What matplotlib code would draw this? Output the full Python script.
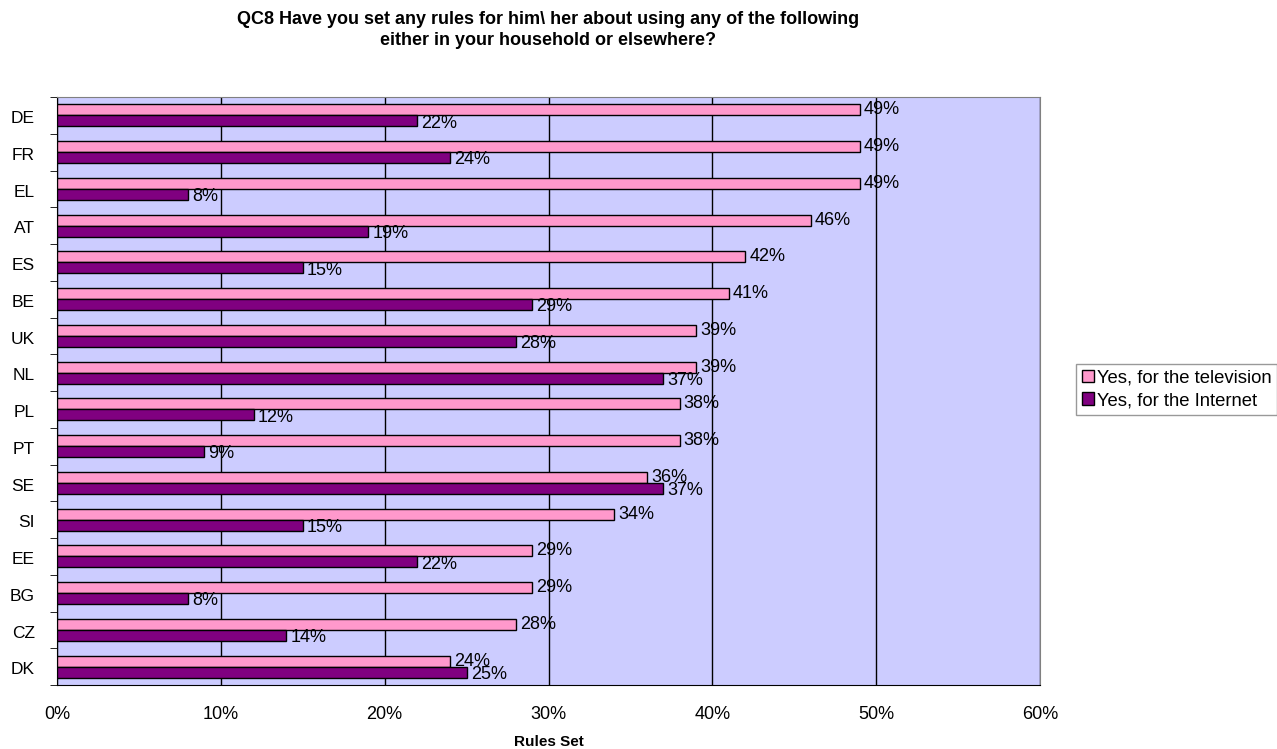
import numpy as np
import matplotlib.pyplot as plt

plt.rcParams['font.family'] = ['Liberation Sans', 'DejaVu Sans']

# Datos
countries = ["DE", "FR", "EL", "AT", "ES", "BE", "UK", "NL", "PL", "PT", "SE", "SI", "EE", "BG", "CZ", "DK"]
tv = [49, 49, 49, 46, 42, 41, 39, 39, 38, 38, 36, 34, 29, 29, 28, 24]
internet = [22, 24, 8, 19, 15, 29, 28, 37, 12, 9, 37, 15, 22, 8, 14, 25]
xticks = [0, 10, 20, 30, 40, 50, 60]

fig = plt.figure(figsize=(12.77, 7.49), dpi=100)
ax = fig.add_axes([57 / 1277, 1 - 685 / 749, (1040 - 57) / 1277, (685 - 97) / 749])
ax.set_facecolor("#CCCCFF")

y = np.arange(len(countries))
h = 0.3
bars_tv = ax.barh(y - h / 2, tv, height=h, color="#FF99CC", edgecolor="black", linewidth=1,
                  label="Yes, for the television", zorder=3)
bars_in = ax.barh(y + h / 2, internet, height=h, color="#800080", edgecolor="black", linewidth=1,
                  label="Yes, for the Internet", zorder=3)

# Etiquetas de valores
for i in range(len(countries)):
    ax.annotate(f"{tv[i]}%", (tv[i], y[i] - h / 2), xytext=(3, 0), textcoords="offset points",
                fontsize=13, ha="left", va="center", zorder=4)
    ax.annotate(f"{internet[i]}%", (internet[i], y[i] + h / 2 + 0.06), xytext=(3, 0), textcoords="offset points",
                fontsize=13, ha="left", va="center", zorder=4)

ax.set_xlim(0, 60)
ax.set_ylim(len(countries) - 0.5, -0.5)
ax.set_xticks(xticks)
ax.set_xticklabels([f"{v}%" for v in xticks], fontsize=13)
ax.tick_params(axis="x", length=0, pad=15)

# Etiquetas de países, un poco más abajo como en el original
ax.set_yticks(y + 0.05)
ax.set_yticklabels(countries, fontsize=12.5)
ax.tick_params(axis="y", which="major", length=0, pad=16)
ax.set_yticks(np.arange(-0.5, len(countries), 1), minor=True)
ax.tick_params(axis="y", which="minor", length=5, color="black")

ax.grid(axis="x", color="black", linewidth=1, zorder=1)
for s in ax.spines.values():
    s.set_color("#808080")
ax.spines["left"].set_color("black")
ax.spines["bottom"].set_color("black")

ax.set_xlabel("Rules Set", fontsize=11, fontweight="bold", labelpad=9)
fig.text(548 / 1277, 1 - 30 / 749,
         "QC8 Have you set any rules for him\\ her about using any of the following\neither in your household or elsewhere?",
         ha="center", va="center", fontsize=13, fontweight="bold", linespacing=1.25)

leg = fig.legend(handles=[bars_tv, bars_in], loc="upper left", bbox_to_anchor=(1076 / 1277, 1 - 364 / 749),
                 fontsize=13.3, frameon=True, fancybox=False, handlelength=0.65, handleheight=0.65,
                 handletextpad=0.2, borderpad=0.3, labelspacing=0.3, borderaxespad=0)
leg.get_frame().set_edgecolor("#808080")
leg.get_frame().set_linewidth(1)

plt.savefig("out.png", dpi=100)
